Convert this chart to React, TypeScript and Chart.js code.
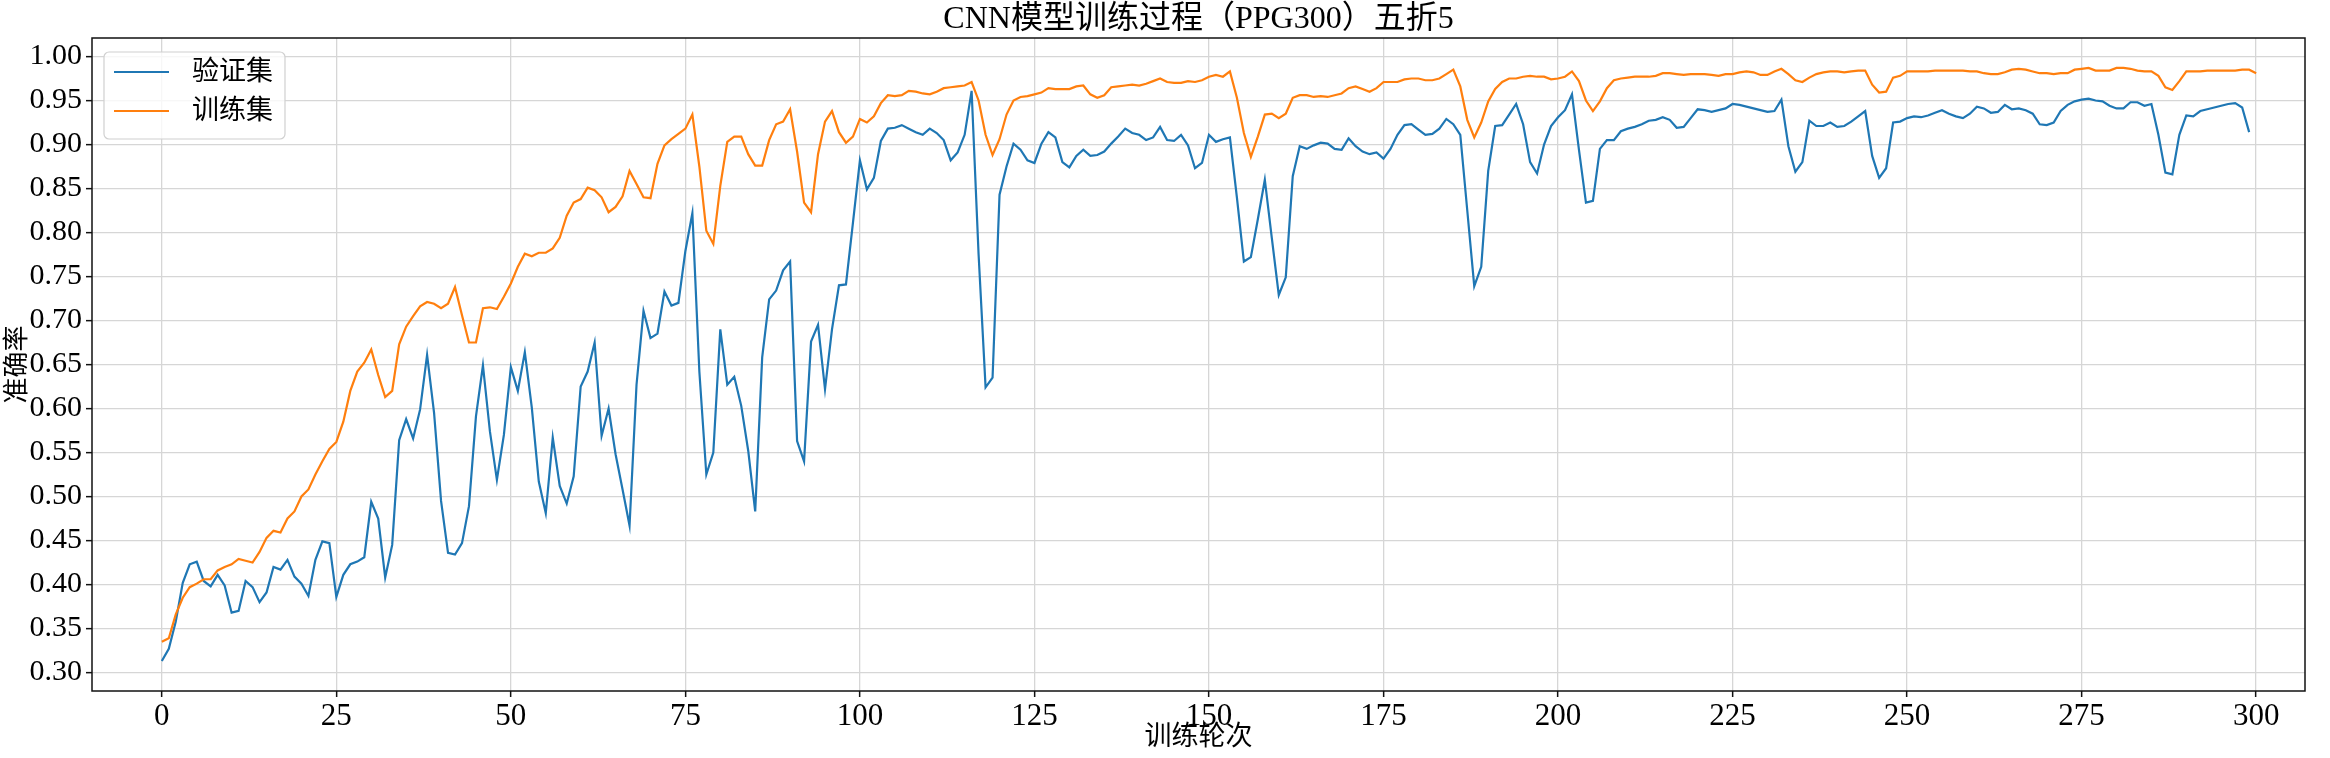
import React, { useEffect, useRef } from "react";
import { Chart, registerables } from "chart.js";

Chart.register(...registerables);

const chartTitle = "CNN模型训练过程（PPG300）五折5";
const xAxisLabel = "训练轮次";
const yAxisLabel = "准确率";
const seriesNames = ["验证集", "训练集"];
const seriesColors = ["#1f77b4", "#ff7f0e"];

const xTicks = [0, 25, 50, 75, 100, 125, 150, 175, 200, 225, 250, 275, 300];
const yTicks = [
  0.3, 0.35, 0.4, 0.45, 0.5, 0.55, 0.6, 0.65, 0.7, 0.75, 0.8, 0.85, 0.9, 0.95, 1.0,
];

// validation accuracy, epochs 0-299
const valAcc = [
  0.313, 0.327, 0.358, 0.402, 0.423, 0.426, 0.404, 0.398, 0.411, 0.399,
  0.368, 0.370, 0.404, 0.397, 0.380, 0.391, 0.420, 0.417, 0.428, 0.409,
  0.401, 0.387, 0.428, 0.449, 0.447, 0.386, 0.411, 0.423, 0.426, 0.431,
  0.494, 0.475, 0.408, 0.445, 0.564, 0.588, 0.566, 0.599, 0.661, 0.595,
  0.495, 0.436, 0.434, 0.447, 0.489, 0.591, 0.649, 0.574, 0.519, 0.570,
  0.647, 0.620, 0.664, 0.601, 0.517, 0.481, 0.567, 0.512, 0.492, 0.523,
  0.625, 0.642, 0.675, 0.569, 0.600, 0.548, 0.508, 0.467, 0.627, 0.711,
  0.680, 0.685, 0.733, 0.717, 0.720, 0.779, 0.822, 0.642, 0.525, 0.550,
  0.690, 0.627, 0.636, 0.603, 0.552, 0.483, 0.658, 0.724, 0.734, 0.757,
  0.767, 0.563, 0.540, 0.676, 0.695, 0.622, 0.690, 0.740, 0.741, 0.811,
  0.882, 0.849, 0.862, 0.904, 0.918, 0.919, 0.922, 0.918, 0.914, 0.911,
  0.918, 0.913, 0.905, 0.882, 0.891, 0.911, 0.961, 0.775, 0.624, 0.635,
  0.843, 0.875, 0.901, 0.894, 0.882, 0.879, 0.901, 0.914, 0.908, 0.880,
  0.874, 0.887, 0.894, 0.887, 0.888, 0.892, 0.901, 0.909, 0.918, 0.913,
  0.911, 0.905, 0.908, 0.920, 0.905, 0.904, 0.911, 0.899, 0.873, 0.879,
  0.911, 0.903, 0.906, 0.908, 0.840, 0.767, 0.772, 0.815, 0.860, 0.794,
  0.729, 0.749, 0.864, 0.898, 0.895, 0.899, 0.902, 0.901, 0.895, 0.894,
  0.907, 0.898, 0.892, 0.889, 0.891, 0.884, 0.895, 0.911, 0.922, 0.923,
  0.917, 0.911, 0.912, 0.918, 0.929, 0.923, 0.911, 0.825, 0.739, 0.761,
  0.870, 0.921, 0.922, 0.934, 0.946, 0.923, 0.880, 0.867, 0.900, 0.921,
  0.931, 0.939, 0.957, 0.894, 0.834, 0.836, 0.895, 0.905, 0.905, 0.915,
  0.918, 0.920, 0.923, 0.927, 0.928, 0.931, 0.928, 0.919, 0.920, 0.930,
  0.940, 0.939, 0.937, 0.939, 0.941, 0.946, 0.945, 0.943, 0.941, 0.939,
  0.937, 0.938, 0.951, 0.898, 0.869, 0.880, 0.927, 0.921, 0.921, 0.925,
  0.920, 0.921, 0.926, 0.932, 0.938, 0.887, 0.862, 0.873, 0.925, 0.926,
  0.930, 0.932, 0.931, 0.933, 0.936, 0.939, 0.935, 0.932, 0.930, 0.935,
  0.943, 0.941, 0.936, 0.937, 0.945, 0.940, 0.941, 0.939, 0.935, 0.923,
  0.922, 0.925, 0.938, 0.945, 0.949, 0.951, 0.952, 0.950, 0.949, 0.944,
  0.941, 0.941, 0.948, 0.948, 0.944, 0.946, 0.911, 0.868, 0.866, 0.911,
  0.933, 0.932, 0.938, 0.940, 0.942, 0.944, 0.946, 0.947, 0.942, 0.914,
];

// training accuracy, epochs 0-300
const trainAcc = [
  0.335, 0.339, 0.366, 0.385, 0.397, 0.401, 0.406, 0.406, 0.416, 0.420,
  0.423, 0.429, 0.427, 0.425, 0.437, 0.453, 0.461, 0.459, 0.475, 0.483,
  0.500, 0.508, 0.525, 0.540, 0.554, 0.562, 0.585, 0.620, 0.642, 0.652,
  0.667, 0.638, 0.613, 0.620, 0.673, 0.693, 0.705, 0.716, 0.721, 0.719,
  0.714, 0.719, 0.738, 0.706, 0.675, 0.675, 0.714, 0.715, 0.713, 0.727,
  0.742, 0.761, 0.776, 0.773, 0.777, 0.777, 0.782, 0.794, 0.819, 0.834,
  0.838, 0.851, 0.848, 0.840, 0.823, 0.829, 0.841, 0.870, 0.855, 0.840,
  0.839, 0.878, 0.899, 0.906, 0.912, 0.918, 0.934, 0.875, 0.802, 0.787,
  0.853, 0.903, 0.909, 0.909, 0.889, 0.876, 0.876, 0.905, 0.923, 0.926,
  0.940, 0.892, 0.834, 0.823, 0.889, 0.926, 0.938, 0.914, 0.902, 0.909,
  0.929, 0.925, 0.932, 0.947, 0.956, 0.955, 0.956, 0.961, 0.960, 0.958,
  0.957, 0.960, 0.964, 0.965, 0.966, 0.967, 0.971, 0.950, 0.911, 0.888,
  0.906, 0.934, 0.950, 0.954, 0.955, 0.957, 0.959, 0.964, 0.963, 0.963,
  0.963, 0.966, 0.967, 0.957, 0.953, 0.956, 0.965, 0.966, 0.967, 0.968,
  0.967, 0.969, 0.972, 0.975, 0.971, 0.970, 0.970, 0.972, 0.971, 0.973,
  0.977, 0.979, 0.977, 0.983, 0.953, 0.913, 0.886, 0.909, 0.934, 0.935,
  0.930, 0.935, 0.953, 0.956, 0.956, 0.954, 0.955, 0.954, 0.956, 0.958,
  0.964, 0.966, 0.963, 0.960, 0.964, 0.971, 0.971, 0.971, 0.974, 0.975,
  0.975, 0.973, 0.973, 0.975, 0.980, 0.985, 0.966, 0.928, 0.908, 0.925,
  0.949, 0.963, 0.971, 0.975, 0.975, 0.977, 0.978, 0.977, 0.977, 0.974,
  0.975, 0.977, 0.983, 0.972, 0.950, 0.938, 0.949, 0.964, 0.973, 0.975,
  0.976, 0.977, 0.977, 0.977, 0.978, 0.981, 0.981, 0.980, 0.979, 0.980,
  0.980, 0.980, 0.979, 0.978, 0.980, 0.980, 0.982, 0.983, 0.982, 0.979,
  0.979, 0.983, 0.986, 0.980, 0.973, 0.971, 0.976, 0.980, 0.982, 0.983,
  0.983, 0.982, 0.983, 0.984, 0.984, 0.968, 0.959, 0.960, 0.976, 0.978,
  0.983, 0.983, 0.983, 0.983, 0.984, 0.984, 0.984, 0.984, 0.984, 0.983,
  0.983, 0.981, 0.980, 0.980, 0.982, 0.985, 0.986, 0.985, 0.983, 0.981,
  0.981, 0.980, 0.981, 0.981, 0.985, 0.986, 0.987, 0.984, 0.984, 0.984,
  0.987, 0.987, 0.986, 0.984, 0.983, 0.983, 0.978, 0.965, 0.962, 0.972,
  0.983, 0.983, 0.983, 0.984, 0.984, 0.984, 0.984, 0.984, 0.985, 0.985,
  0.981,
];

const FONT = "'Liberation Serif', 'Times New Roman', 'Noto Sans CJK SC', serif";

// axes frame, title above the plot, matplotlib-style legend in the upper left
const overlayPlugin = {
  id: "overlay",
  afterDraw(chart: any) {
    const { ctx, chartArea } = chart;
    const { left, top, right, bottom } = chartArea;
    ctx.save();

    ctx.strokeStyle = "#111";
    ctx.lineWidth = 1.5;
    ctx.strokeRect(left, top, right - left, bottom - top);

    ctx.fillStyle = "#000";
    ctx.font = `32px ${FONT}`;
    ctx.textAlign = "center";
    ctx.textBaseline = "middle";
    ctx.fillText(chartTitle, (left + right) / 2, top / 2 + 1);

    ctx.font = `27px ${FONT}`;
    const datasets = chart.data.datasets;
    const textW = Math.max(...datasets.map((d: any) => ctx.measureText(d.label).width));
    const bx = left + 12;
    const by = top + 14;
    const bw = 88 + textW + 12;
    const bh = 87;
    ctx.beginPath();
    ctx.roundRect(bx, by, bw, bh, 5);
    ctx.fillStyle = "rgba(255,255,255,0.8)";
    ctx.fill();
    ctx.strokeStyle = "#d0d0d0";
    ctx.lineWidth = 1.2;
    ctx.stroke();

    datasets.forEach((d: any, i: number) => {
      const y = by + 20 + i * 39;
      ctx.strokeStyle = d.borderColor;
      ctx.lineWidth = 2.2;
      ctx.beginPath();
      ctx.moveTo(bx + 10, y);
      ctx.lineTo(bx + 65, y);
      ctx.stroke();
      ctx.fillStyle = "#000";
      ctx.textAlign = "left";
      ctx.textBaseline = "middle";
      ctx.fillText(d.label, bx + 88, y + 1);
    });
    ctx.restore();
  },
};

const AccuracyChart: React.FC = () => {
  const chartRef = useRef<HTMLCanvasElement | null>(null);

  useEffect(() => {
    if (!chartRef.current) return;
    const ctx = chartRef.current.getContext("2d");
    if (!ctx) return;

    const chart = new Chart(ctx, {
      type: "line",
      data: {
        datasets: [
          {
            label: seriesNames[0],
            data: valAcc.map((y, x) => ({ x, y })),
            borderColor: seriesColors[0],
            backgroundColor: seriesColors[0],
            order: 1,
          },
          {
            label: seriesNames[1],
            data: trainAcc.map((y, x) => ({ x, y })),
            borderColor: seriesColors[1],
            backgroundColor: seriesColors[1],
            order: 0,
          },
        ],
      },
      options: {
        animation: false,
        responsive: true,
        maintainAspectRatio: false,
        devicePixelRatio: 1,
        layout: { padding: { top: 38, right: 25, bottom: 0, left: 0 } },
        elements: {
          point: { radius: 0 },
          line: { borderWidth: 2.2, tension: 0 },
        },
        plugins: {
          legend: { display: false },
          tooltip: { enabled: false },
        },
        scales: {
          x: {
            type: "linear",
            min: -10,
            max: 307,
            afterBuildTicks: (s: any) => {
              s.ticks = xTicks.map((v) => ({ value: v }));
            },
            afterFit: (s: any) => {
              s.height = 67;
            },
            ticks: {
              color: "#000",
              font: { family: FONT, size: 31 },
              padding: 1,
              maxRotation: 0,
              autoSkip: false,
              callback: (v: any) => String(v),
            },
            grid: {
              color: "#d6d6d6",
              lineWidth: 1.3,
              tickColor: "#111",
              tickLength: 6,
              tickWidth: 1.5,
            },
            border: { display: false },
            title: {
              display: true,
              text: xAxisLabel,
              color: "#000",
              font: { family: FONT, size: 27 },
              padding: { top: 0, bottom: 4 },
            },
          },
          y: {
            type: "linear",
            min: 0.279,
            max: 1.021,
            afterBuildTicks: (s: any) => {
              s.ticks = yTicks.map((v) => ({ value: v }));
            },
            afterFit: (s: any) => {
              s.width = 92;
            },
            ticks: {
              color: "#000",
              font: { family: FONT, size: 30 },
              padding: 4,
              autoSkip: false,
              callback: (v: any) => Number(v).toFixed(2),
            },
            grid: {
              color: "#d6d6d6",
              lineWidth: 1.3,
              tickColor: "#111",
              tickLength: 6,
              tickWidth: 1.5,
            },
            border: { display: false },
            title: {
              display: true,
              text: yAxisLabel,
              color: "#000",
              font: { family: FONT, size: 26 },
              padding: { top: 3, bottom: 0 },
            },
          },
        },
      },
      plugins: [overlayPlugin],
    });

    return () => {
      chart.destroy();
    };
  }, []);

  return (
    <div
      style={{
        position: "absolute",
        left: 0,
        top: 0,
        width: 2330,
        height: 758,
        background: "#fff",
      }}
    >
      <canvas ref={chartRef} />
    </div>
  );
};

export default function App() {
  return <AccuracyChart />;
}
